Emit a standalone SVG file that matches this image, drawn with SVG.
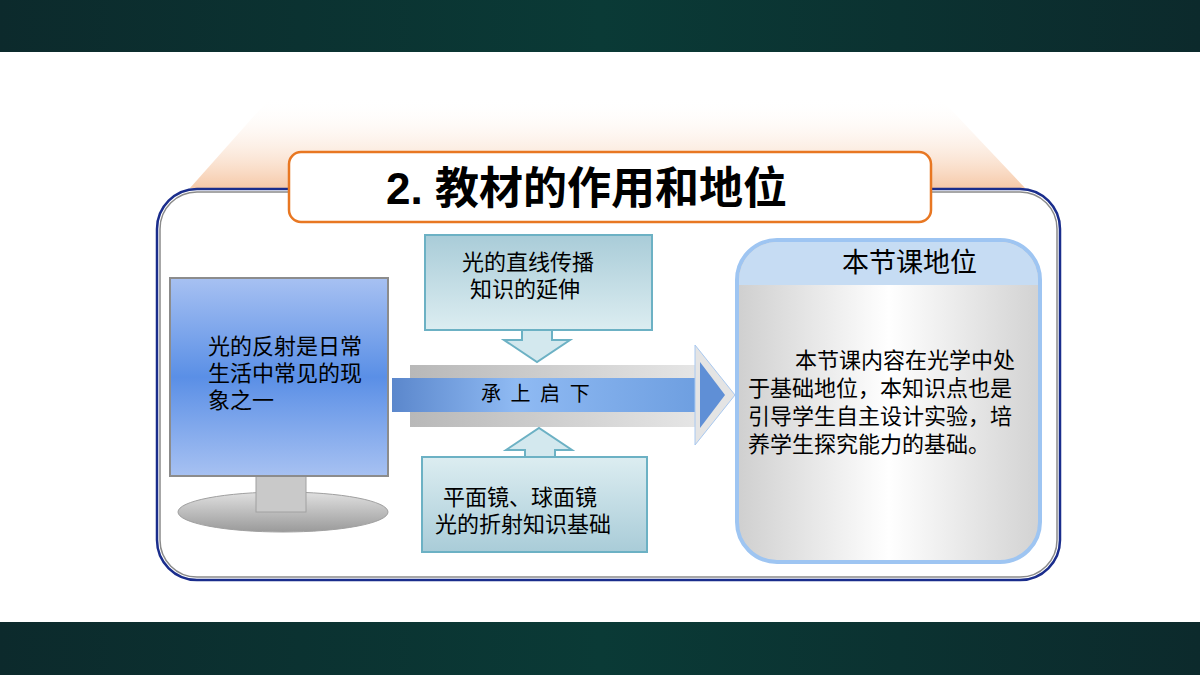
<svg xmlns="http://www.w3.org/2000/svg" width="1200" height="675" viewBox="0 0 1200 675">
<defs>
<linearGradient id="band" x1="0" y1="0" x2="1" y2="0"><stop offset="0" stop-color="#0c2a2c"/><stop offset="0.5" stop-color="#0a3a36"/><stop offset="1" stop-color="#0c2a2c"/></linearGradient>
<linearGradient id="glow" x1="0" y1="0" x2="0" y2="1"><stop offset="0" stop-color="#fff" stop-opacity="0"/><stop offset="1" stop-color="#f6c9a8"/></linearGradient>
<linearGradient id="screen" x1="0" y1="0" x2="0" y2="1"><stop offset="0" stop-color="#a7c1f2"/><stop offset="0.5" stop-color="#5a8fe6"/><stop offset="1" stop-color="#a7c1f2"/></linearGradient>
<linearGradient id="teal" x1="0" y1="0" x2="0" y2="1"><stop offset="0" stop-color="#a9ccd8"/><stop offset="1" stop-color="#dcedf1"/></linearGradient>
<linearGradient id="teal2" x1="0" y1="0" x2="0" y2="1"><stop offset="0" stop-color="#dcedf1"/><stop offset="1" stop-color="#a9ccd8"/></linearGradient>
<linearGradient id="barb" x1="0" y1="0" x2="1" y2="0"><stop offset="0" stop-color="#5b87cc"/><stop offset="0.4" stop-color="#8fbaf3"/><stop offset="1" stop-color="#6d9ee0"/></linearGradient>
<linearGradient id="gray" x1="0" y1="0" x2="1" y2="0"><stop offset="0" stop-color="#b8b8b8"/><stop offset="1" stop-color="#e6e6e6"/></linearGradient>
<linearGradient id="panel" x1="0" y1="0" x2="1" y2="0"><stop offset="0" stop-color="#cfcfcf"/><stop offset="0.5" stop-color="#ffffff"/><stop offset="1" stop-color="#d2d2d2"/></linearGradient>
<linearGradient id="base" x1="0" y1="0" x2="0" y2="1"><stop offset="0" stop-color="#e0e0e0"/><stop offset="1" stop-color="#9a9a9a"/></linearGradient>
</defs>
<style>
.t{font-family:"Liberation Sans","Noto Sans CJK SC",sans-serif;fill:#000}
</style>
<rect width="1200" height="675" fill="#fff"/>
<rect width="1200" height="52" fill="url(#band)"/>
<rect y="622" width="1200" height="53" fill="url(#band)"/>
<polygon points="270,98 940,98 1025,188 190,188" fill="url(#glow)"/>
<g id="frame">
<rect x="157" y="189" width="903" height="391" rx="40" fill="#fff" stroke="#1a2d8c" stroke-width="2.5"/>
<rect x="160" y="192" width="897" height="385" rx="37" fill="none" stroke="#8a8a8a" stroke-width="1.5"/>
</g>
<g id="title">
<rect x="289" y="152" width="642" height="70" rx="12" fill="#fff" stroke="#e87722" stroke-width="2.5"/>
<text class="t" x="386" y="204" font-size="44" font-weight="bold">2. 教材的作用和地位</text>
</g>
<g id="monitor">
<ellipse cx="283" cy="512" rx="105" ry="20" fill="url(#base)" stroke="#a0a0a0"/>
<rect x="256" y="474" width="50" height="38" fill="#c9c9c9" stroke="#a0a0a0"/>
<rect x="170" y="278" width="218" height="198" fill="url(#screen)" stroke="#8c8c8c" stroke-width="2"/>
<text class="t" font-size="22"><tspan x="208" y="354">光的反射是日常</tspan><tspan x="208" y="381">生活中常见的现</tspan><tspan x="208" y="408">象之一</tspan></text>
</g>
<g id="connectors">
<rect x="410" y="365" width="290" height="62" fill="url(#gray)"/>
<rect x="392" y="378" width="310" height="34" fill="url(#barb)"/>
<polygon points="695,345 735,395 695,445" fill="#e4e4e4" stroke="#a8c8f0"/>
<polygon points="700,362 725,395 700,428" fill="#5f8fd6"/>
<polygon points="522,330 552,330 552,340 570,340 537,362 504,340 522,340" fill="#d3e8ee" stroke="#6cb1c4" stroke-width="2"/>
<polygon points="525,457 555,457 555,450 572,450 539,428 506,450 525,450" fill="#d3e8ee" stroke="#6cb1c4" stroke-width="2"/>
</g>
<g id="center">
<text class="t" x="481" y="401" font-size="20" letter-spacing="2">承 上 启 下</text>
</g>
<g id="top">
<rect x="425" y="235" width="227" height="95" fill="url(#teal)" stroke="#6cb1c4" stroke-width="2"/>
<text class="t" font-size="22"><tspan x="462" y="270">光的直线传播</tspan><tspan x="470" y="297">知识的延伸</tspan></text>
</g>
<g id="bottom">
<rect x="422" y="457" width="225" height="95" fill="url(#teal2)" stroke="#6cb1c4" stroke-width="2"/>
<text class="t" font-size="22"><tspan x="443" y="505">平面镜、球面镜</tspan><tspan x="435" y="532">光的折射知识基础</tspan></text>
</g>
<g id="panel">
<rect x="737" y="240" width="303" height="322" rx="40" fill="url(#panel)" stroke="#9ec5f2" stroke-width="4"/>
<path d="M739,285 V280 A38,38 0 0 1 777,242 H1000 A38,38 0 0 1 1038,280 V285 Z" fill="#c6dcf3"/>
<text class="t" x="842" y="272" font-size="27">本节课地位</text>
<text class="t" font-size="22"><tspan x="795" y="368">本节课内容在光学中处</tspan><tspan x="748" y="396">于基础地位，本知识点也是</tspan><tspan x="748" y="424">引导学生自主设计实验，培</tspan><tspan x="748" y="452">养学生探究能力的基础。</tspan></text>
</g>
</svg>
